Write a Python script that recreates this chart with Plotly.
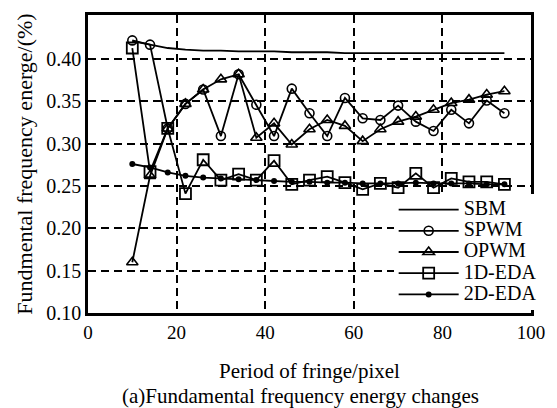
import plotly.graph_objects as go

period = [10, 14, 18, 22, 26, 30, 34, 38, 42, 46, 50, 54, 58, 62, 66, 70, 74, 78, 82, 86, 90, 94]

sbm = [0.421, 0.417, 0.413, 0.411, 0.410, 0.410, 0.409, 0.409, 0.409, 0.408, 0.408,
       0.408, 0.407, 0.407, 0.407, 0.407, 0.407, 0.407, 0.407, 0.407, 0.407, 0.407]
spwm = [0.422, 0.417, 0.318, 0.347, 0.364, 0.309, 0.382, 0.346, 0.309, 0.365, 0.336,
        0.309, 0.354, 0.330, 0.328, 0.345, 0.326, 0.315, 0.340, 0.324, 0.351, 0.336]
opwm = [0.160, 0.262, 0.318, 0.347, 0.364, 0.376, 0.382, 0.307, 0.324, 0.299, 0.317,
        0.328, 0.321, 0.303, 0.317, 0.326, 0.332, 0.340, 0.348, 0.352, 0.358, 0.362]
eda1 = [0.413, 0.267, 0.318, 0.241, 0.281, 0.257, 0.264, 0.257, 0.280, 0.252, 0.257,
        0.261, 0.254, 0.246, 0.253, 0.248, 0.265, 0.248, 0.259, 0.255, 0.255, 0.252]
eda2 = [0.276, 0.272, 0.266, 0.262, 0.260, 0.259, 0.258, 0.257, 0.256, 0.255, 0.255,
        0.254, 0.254, 0.253, 0.253, 0.253, 0.254, 0.253, 0.253, 0.253, 0.252, 0.252]

series_names = ["SBM", "SPWM", "OPWM", "1D-EDA", "2D-EDA"]

x_ticks = [0, 20, 40, 60, 80, 100]
y_ticks = [0.10, 0.15, 0.20, 0.25, 0.30, 0.35, 0.40]
y_labels = ["0.10", "0.15", "0.20", "0.25", "0.30", "0.35", "0.40"]

FONT = "Liberation Serif"
LW = 1.8
GRID_DASH = "8px,5px"


def lname(s):
    # larger legend text while keeping the compact legend row spacing
    return f"<span style='font-size:20px'>{s}</span>"


fig = go.Figure()
fig.add_trace(go.Scatter(x=period, y=sbm, name=lname(series_names[0]), mode="lines",
                         line=dict(color="black", width=LW)))
fig.add_trace(go.Scatter(x=period, y=spwm, name=lname(series_names[1]), mode="lines+markers",
                         line=dict(color="black", width=LW),
                         marker=dict(symbol="circle-open", size=9, color="black",
                                     line=dict(width=1.6, color="black"))))
fig.add_trace(go.Scatter(x=period, y=opwm, name=lname(series_names[2]), mode="lines+markers",
                         line=dict(color="black", width=LW),
                         marker=dict(symbol="triangle-up-open", size=10, color="black",
                                     line=dict(width=1.6, color="black"))))
fig.add_trace(go.Scatter(x=period, y=eda1, name=lname(series_names[3]), mode="lines+markers",
                         line=dict(color="black", width=LW),
                         marker=dict(symbol="square-open", size=11, color="black",
                                     line=dict(width=1.8, color="black"))))
fig.add_trace(go.Scatter(x=period, y=eda2, name=lname(series_names[4]), mode="lines+markers",
                         line=dict(color="black", width=LW),
                         marker=dict(symbol="circle", size=6, color="black")))

fig.update_layout(
    width=557, height=408,
    margin=dict(l=88, r=16, t=13, b=95),
    paper_bgcolor="white", plot_bgcolor="white",
    font=dict(family=FONT, size=20, color="black"),
    showlegend=True,
    legend=dict(x=0.69, y=0.01, xanchor="left", yanchor="bottom",
                bgcolor="white", borderwidth=0,
                font=dict(family=FONT, size=14, color="black"),
                itemwidth=60, tracegroupgap=0),
    shapes=[dict(type="rect", xref="paper", yref="paper",
                 x0=0.66, x1=1.0, y0=0.0, y1=0.40,
                 fillcolor="white", line=dict(width=0), layer="between")],
    xaxis=dict(range=[0, 100], tickvals=x_ticks, ticks="",
               showgrid=True, gridcolor="black", gridwidth=1.8, griddash=GRID_DASH,
               showline=True, linecolor="black", linewidth=2.5, mirror=True,
               zeroline=False,
               tickfont=dict(family=FONT, size=19),
               title=dict(text="Period of fringe/pixel", standoff=22,
                          font=dict(family=FONT, size=21))),
    yaxis=dict(range=[0.10, 0.452], tickvals=y_ticks, ticktext=y_labels, ticks="",
               showgrid=True, gridcolor="black", gridwidth=1.8, griddash=GRID_DASH,
               showline=True, linecolor="black", linewidth=2.5, mirror=True,
               zeroline=False,
               tickfont=dict(family=FONT, size=20),
               title=dict(text="Fundmental frequency energe/(%)", standoff=8,
                          font=dict(family=FONT, size=22))),
    annotations=[dict(text="(a)Fundamental frequency energy changes",
                      xref="paper", yref="paper", x=0.48, y=-0.279,
                      xanchor="center", yanchor="middle", showarrow=False,
                      font=dict(family=FONT, size=21, color="black"))],
)

fig.write_html("out.html")
